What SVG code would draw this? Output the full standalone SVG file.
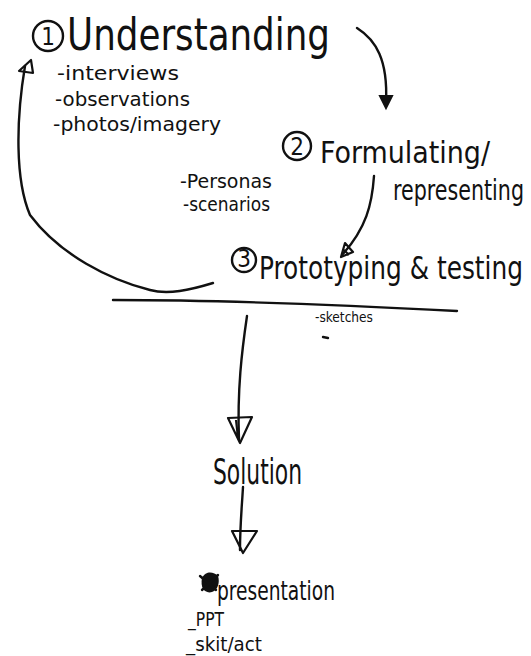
<svg xmlns="http://www.w3.org/2000/svg" width="531" height="656" viewBox="0 0 531 656">
  <style>
    .ink { fill: none; stroke: #111; stroke-width: 2.4; stroke-linecap: round; stroke-linejoin: round; }
    .head { fill: none; stroke: #111; stroke-width: 2.2; stroke-linejoin: round; }
    .t { font-family: "DejaVu Sans Condensed", "Liberation Sans", sans-serif; fill: #111; }
    .big { font-size: 44px; }
    .mid { font-size: 32px; }
    .sub { font-size: 19px; }
    .num { font-size: 24px; }
  </style>
  <rect width="531" height="656" fill="#fff"/>

  <g id="understanding">
    <circle class="ink" cx="48" cy="36" r="15"/>
    <text class="t num" x="48" y="45" text-anchor="middle">1</text>
    <text class="t big" x="67" y="50" textLength="263" lengthAdjust="spacingAndGlyphs">Understanding</text>
    <text class="t sub" x="57" y="80" textLength="122" lengthAdjust="spacingAndGlyphs">-interviews</text>
    <text class="t sub" x="55" y="106" textLength="135" lengthAdjust="spacingAndGlyphs">-observations</text>
    <text class="t sub" x="53" y="131" textLength="168" lengthAdjust="spacingAndGlyphs">-photos/imagery</text>
  </g>

  <g id="formulating">
    <circle class="ink" cx="297" cy="146" r="14"/>
    <text class="t num" x="297" y="155" text-anchor="middle">2</text>
    <text class="t" x="320" y="163" font-size="31" textLength="170" lengthAdjust="spacingAndGlyphs">Formulating/</text>
    <text class="t" transform="translate(393 200) scale(1 1.25)" font-size="23" textLength="131" lengthAdjust="spacingAndGlyphs">representing</text>
    <text class="t sub" x="180" y="188" textLength="92" lengthAdjust="spacingAndGlyphs">-Personas</text>
    <text class="t sub" x="183" y="211" textLength="87" lengthAdjust="spacingAndGlyphs">-scenarios</text>
  </g>

  <g id="prototyping">
    <circle class="ink" cx="244" cy="260" r="12"/>
    <text class="t num" x="244" y="267" text-anchor="middle" font-size="19">3</text>
    <text class="t" transform="translate(259 279) scale(1 1.35)" font-size="23" textLength="264" lengthAdjust="spacingAndGlyphs">Prototyping &amp; testing</text>
    <path class="ink" d="M113 300 Q250 300 457 311"/>
    <text class="t" x="315" y="322" font-size="14" textLength="58" lengthAdjust="spacingAndGlyphs">-sketches</text>
    <path class="ink" d="M323 337 L328 338"/>
  </g>

  <g id="solution">
    <text class="t" x="213" y="484" font-size="36" textLength="89" lengthAdjust="spacingAndGlyphs">Solution</text>
  </g>

  <g id="presentation">
    <path d="M202 578 C206 570 214 572 218 576 C220 582 218 590 212 592 C205 594 200 588 202 578 Z" fill="#111"/>
    <path class="ink" d="M200 576 L216 590 M202 590 L218 575"/>
    <text class="t" x="217" y="600" font-size="27" textLength="118" lengthAdjust="spacingAndGlyphs">presentation</text>
    <text class="t sub" x="188" y="626" textLength="36" lengthAdjust="spacingAndGlyphs">_PPT</text>
    <text class="t sub" x="186" y="651" textLength="76" lengthAdjust="spacingAndGlyphs">_skit/act</text>
  </g>

  <g id="connectors">
    <!-- 1 to 2 -->
    <path class="ink" d="M357 28 C376 40 388 60 386 102"/>
    <path d="M380 96 L392 96 L386 108 Z" fill="#111" stroke="#111" stroke-width="2"/>
    <!-- 2 to 3 -->
    <path class="ink" d="M374 176 C372 205 366 228 343 254"/>
    <path class="head" d="M341 257 L345 243 L353 252 Z M344 250 L349 255"/>
    <!-- 3 back to 1 -->
    <path class="ink" d="M213 283 C190 290 168 295 150 290 C110 280 60 255 30 215 C15 180 16 120 25 66"/>
    <path class="head" d="M19 71 L31 60 L33 73 Z"/>
    <!-- 3 to solution -->
    <path class="ink" d="M247 316 C242 350 237 390 239 440"/>
    <path class="head" d="M228 418 L252 417 L240 443 Z M236 420 L238 438"/>
    <!-- solution to presentation -->
    <path class="ink" d="M243 487 C242 505 240 525 240 550"/>
    <path class="head" d="M232 531 L257 531 L243 553 Z"/>
  </g>
</svg>
